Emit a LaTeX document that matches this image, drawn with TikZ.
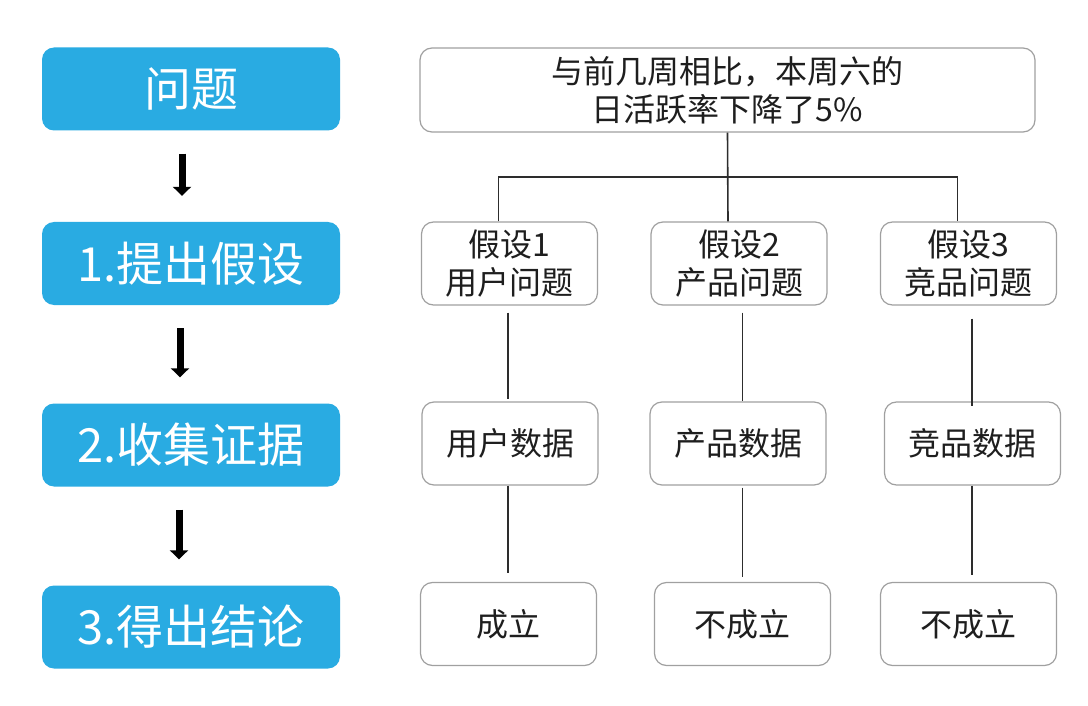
\documentclass[tikz,border=0pt]{standalone}
\usepackage{fontspec}
\setmainfont{Noto Sans CJK SC}
\usetikzlibrary{arrows.meta,calc}
\definecolor{bluebox}{RGB}{41,171,226}
\definecolor{cardline}{RGB}{160,160,160}
\definecolor{linkcol}{RGB}{45,45,45}
\definecolor{txt}{RGB}{30,30,30}
\begin{document}
\begin{tikzpicture}[x=1pt,y=-1pt,
  stepbox/.style={rectangle, rounded corners=12pt, fill=bluebox, minimum width=298pt, minimum height=83pt, text=white, font=\fontsize{47}{50}\selectfont, inner sep=0pt},
  card/.style={rectangle, rounded corners=12pt, draw=cardline, line width=1.2pt, fill=white, minimum width=176pt, minimum height=83pt, text=txt, align=center, font=\fontsize{32}{38}\selectfont, inner sep=0pt},
  link/.style={draw=linkcol, line width=1.6pt},
  flow/.style={draw=black, line width=7pt, -{Triangle[width=18pt,length=9pt]}, shorten <=23pt, shorten >=26pt}
]
\useasboundingbox[fill=white] (0,0) rectangle (1088,706);

% left column
\node[stepbox] (q)  at (191,89)  {问题};
\node[stepbox] (s1) at (191,263.5) {1.提出假设};
\node[stepbox] (s2) at (191,445) {2.收集证据};
\node[stepbox] (s3) at (191,627) {3.得出结论};

\draw[flow] ([xshift=-9]q.south)  -- ([xshift=-9]s1.north);
\draw[flow] ([xshift=-11]s1.south) -- ([xshift=-11]s2.north);
\draw[flow] ([xshift=-12]s2.south) -- ([xshift=-12]s3.north);

% right tree
\node[card, minimum width=615pt, minimum height=84pt] (top) at (727.5,90) {与前几周相比，本周六的\\日活跃率下降了5\%};

\node[card] (h1) at (509.5,263.5) {假设1\\用户问题};
\node[card] (h2) at (739,263.5)   {假设2\\产品问题};
\node[card] (h3) at (968.5,263.5) {假设3\\竞品问题};

\node[card] (d1) at (510,443.5)   {用户数据};
\node[card] (d2) at (738,443.5)   {产品数据};
\node[card] (d3) at (972.5,443.5) {竞品数据};

\node[card] (r1) at (508.5,624) {成立};
\node[card] (r2) at (742.5,624) {不成立};
\node[card] (r3) at (968.5,624) {不成立};

\coordinate (j) at (727.5,177);
\coordinate (l1) at (508,0);
\coordinate (l2) at (742.5,0);
\coordinate (l3) at (972,0);

\draw[link] (top.south) -- ([xshift=-11]h2.north);
\draw[link] ([xshift=-11]h1.north) |- (j) -| ([xshift=-11]h3.north);

\draw[link] ([yshift=-7]h1.south -| l1) -- ([yshift=2]d1.north -| l1);
\draw[link] ([yshift=-7]h2.south -| l2) -- (d2.north -| l2);
\draw[link] ([yshift=-13]h3.south -| l3) -- ([yshift=-5]d3.north -| l3);

\draw[link] (d1.south -| l1) -- ([yshift=9]r1.north -| l1);
\draw[link] ([yshift=-2]d2.south -| l2) -- ([yshift=5]r2.north -| l2);
\draw[link] (d3.south -| l3) -- ([yshift=7]r3.north -| l3);
\end{tikzpicture}
\end{document}
